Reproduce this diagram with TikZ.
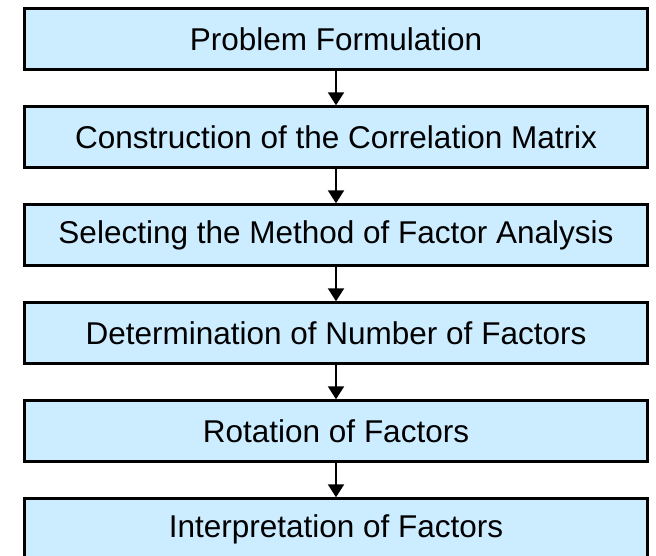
\documentclass[tikz,border=0pt]{standalone}
\usepackage{fontspec}
\setmainfont{Liberation Sans}
\usetikzlibrary{arrows.meta}
\definecolor{boxblue}{RGB}{204,236,255}
\tikzset{
  stepbox/.style={draw=black, line width=2.4pt, fill=boxblue, minimum width=623pt, minimum height=61pt, inner sep=0pt, font=\fontsize{31.5}{36}\selectfont},
  flow/.style={line width=2pt, -{Triangle[length=13pt,width=16pt]}}
}
\begin{document}
\begin{tikzpicture}[x=1pt,y=-1pt]
\useasboundingbox (0,0) rectangle (656,555);
\node[stepbox] (b1) at (336,39) {Problem Formulation};
\node[stepbox] (b2) at (336,137) {Construction of the Correlation Matrix};
\node[stepbox] (b3) at (336,235) {Selecting the Method of Factor Analysis};
\node[stepbox] (b4) at (336,333) {Determination of Number of Factors};
\node[stepbox] (b5) at (336,431) {Rotation of Factors};
\node[stepbox] (b6) at (336,529) {Interpretation of Factors};
\draw[flow] (b1) -- (b2);
\draw[flow] (b2) -- (b3);
\draw[flow] (b3) -- (b4);
\draw[flow] (b4) -- (b5);
\draw[flow] (b5) -- (b6);
\end{tikzpicture}
\end{document}
